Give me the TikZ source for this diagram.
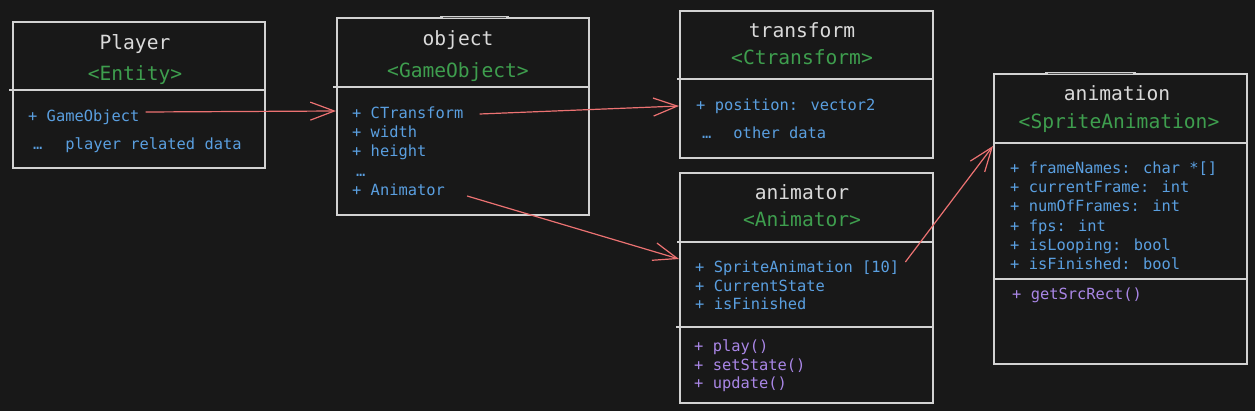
\documentclass[tikz,border=0pt]{standalone}
\usepackage{fontspec}
\setmainfont{DejaVu Sans Mono}
\usetikzlibrary{arrows.meta}
\definecolor{bgc}{HTML}{181818}
\definecolor{linec}{HTML}{D2D2D2}
\definecolor{titlec}{HTML}{DADADA}
\definecolor{greenc}{HTML}{3E9E4E}
\definecolor{bluec}{HTML}{5A9FE0}
\definecolor{purplec}{HTML}{A986E6}
\definecolor{redc}{HTML}{EC7272}
\begin{document}
\begin{tikzpicture}[x=1pt,y=-1pt,
  box/.style={draw=linec, line width=1.8pt, anchor=north west, inner sep=0pt},
  divider/.style={draw=linec, line width=1.6pt},
  ttl/.style={text=titlec, font=\fontsize{19.6}{22}\selectfont, inner sep=0pt, text height=14pt, text depth=4.5pt, yshift=-3pt},
  ster/.style={ttl, text=greenc},
  attr/.style={text=bluec, font=\fontsize{15.4}{19}\selectfont, inner sep=0pt, anchor=west, text height=11pt, text depth=3.5pt, yshift=-2.5pt},
  meth/.style={attr, text=purplec},
  link/.style={draw=redc, line width=1.2pt, -{Straight Barb[length=24pt,width=18pt,line width=1.2pt]}},
  thick edge/.style={draw=linec, line width=2.6pt},
  artifact/.style={draw=bgc!70!linec, line width=0.6pt}
]
\fill[bgc] (0,0) rectangle (1255,411);
\useasboundingbox (0,0) rectangle (1255,411);

% boxes
\node[box, minimum width=252pt, minimum height=146pt] (player) at (12,21) {};
\node[box, minimum width=252pt, minimum height=197pt] (objbox) at (336,17) {};
\node[box, minimum width=253pt, minimum height=147pt] (trbox) at (679,10) {};
\node[box, minimum width=253pt, minimum height=230pt] (anbox) at (679,172) {};
\node[box, minimum width=253pt, minimum height=290pt] (amnbox) at (993,73) {};

% sketch artifacts on top borders
\draw[thick edge] (440,17) -- (509,17);
\draw[artifact] (443,17) -- (506,17);
\draw[thick edge] (1045,73) -- (1136,73);
\draw[artifact] (1048,73) -- (1133,73);

% dividers
\draw[divider] (player.west |- 0,90) ++(-3,0) -- (player.east |- 0,90);
\draw[divider] (objbox.west |- 0,87) ++(-3,0) -- (objbox.east |- 0,87);
\draw[divider] (trbox.west |- 0,79) ++(-2,0) -- (trbox.east |- 0,79);
\draw[divider] (anbox.west |- 0,242) ++(-2,0) -- (anbox.east |- 0,242);
\draw[divider] (anbox.west |- 0,327) ++(-3,0) -- (anbox.east |- 0,327);
\draw[divider] (amnbox.west |- 0,143) -- (amnbox.east |- 0,143);
\draw[divider] (amnbox.west |- 0,279) -- (amnbox.east |- 0,279);

% Player
\node[ttl] (ptitle) at (135,42) {Player};
\node[ster] (pster) at (135,73) {<Entity>};
\node[attr] (pgo) at (28,115) {+ GameObject};
\node[attr] (pdata) at (33,143) {…\hspace{23pt}player related data};

% object
\node[ttl] (otitle) at (458,38) {object};
\node[ster] (oster) at (458,70) {<GameObject>};
\node[attr] (oct) at (352,112) {+ CTransform};
\node[attr] (owidth) at (352,131) {+ width};
\node[attr] (oheight) at (352,150) {+ height};
\node[attr] (odots) at (356,170) {…};
\node[attr] (oanim) at (352,189) {+ Animator};

% transform
\node[ttl] (ttitle) at (802,30) {transform};
\node[ster] (tster) at (802,57) {<Ctransform>};
\node[attr] (tpos) at (696,104) {+ position: vector2};
\node[attr] (tdata) at (702,132) {…\hspace{22pt}other data};

% animator
\node[ttl] (atitle) at (802,192) {animator};
\node[ster] (aster) at (802,219) {<Animator>};
\node[attr] (asprite) at (695,266) {+ SpriteAnimation [10]};
\node[attr] (astate) at (695,285) {+ CurrentState};
\node[attr] (afin) at (695,303) {+ isFinished};
\node[meth] (aplay) at (694,345) {+ play()};
\node[meth] (aset) at (694,364) {+ setState()};
\node[meth] (aupd) at (694,382) {+ update()};

% animation
\node[ttl] (mtitle) at (1117,93) {animation};
\node[ster] (mster) at (1119,121) {<SpriteAnimation>};
\node[attr] (mf1) at (1010,167) {+ frameNames: char *[]};
\node[attr] (mf2) at (1010,186) {+ currentFrame: int};
\node[attr] (mf3) at (1010,205) {+ numOfFrames: int};
\node[attr] (mf4) at (1010,225) {+ fps: int};
\node[attr] (mf5) at (1010,244) {+ isLooping: bool};
\node[attr] (mf6) at (1010,263) {+ isFinished: bool};
\node[meth] (mget) at (1012,293) {+ getSrcRect()};

% connectors
\draw[link] ([xshift=6pt,yshift=5.5pt]pgo.east) -- (objbox.west |- 0,111);
\draw[link] ([xshift=16pt,yshift=0.5pt]oct.east) -- (trbox.west |- 0,106);
\draw[link] ([xshift=22pt,yshift=-4.5pt]oanim.east) -- (anbox.west |- 0,259);
\draw[link] ([xshift=6pt,yshift=6.5pt]asprite.east) -- (amnbox.west |- 0,146);
\end{tikzpicture}
\end{document}
